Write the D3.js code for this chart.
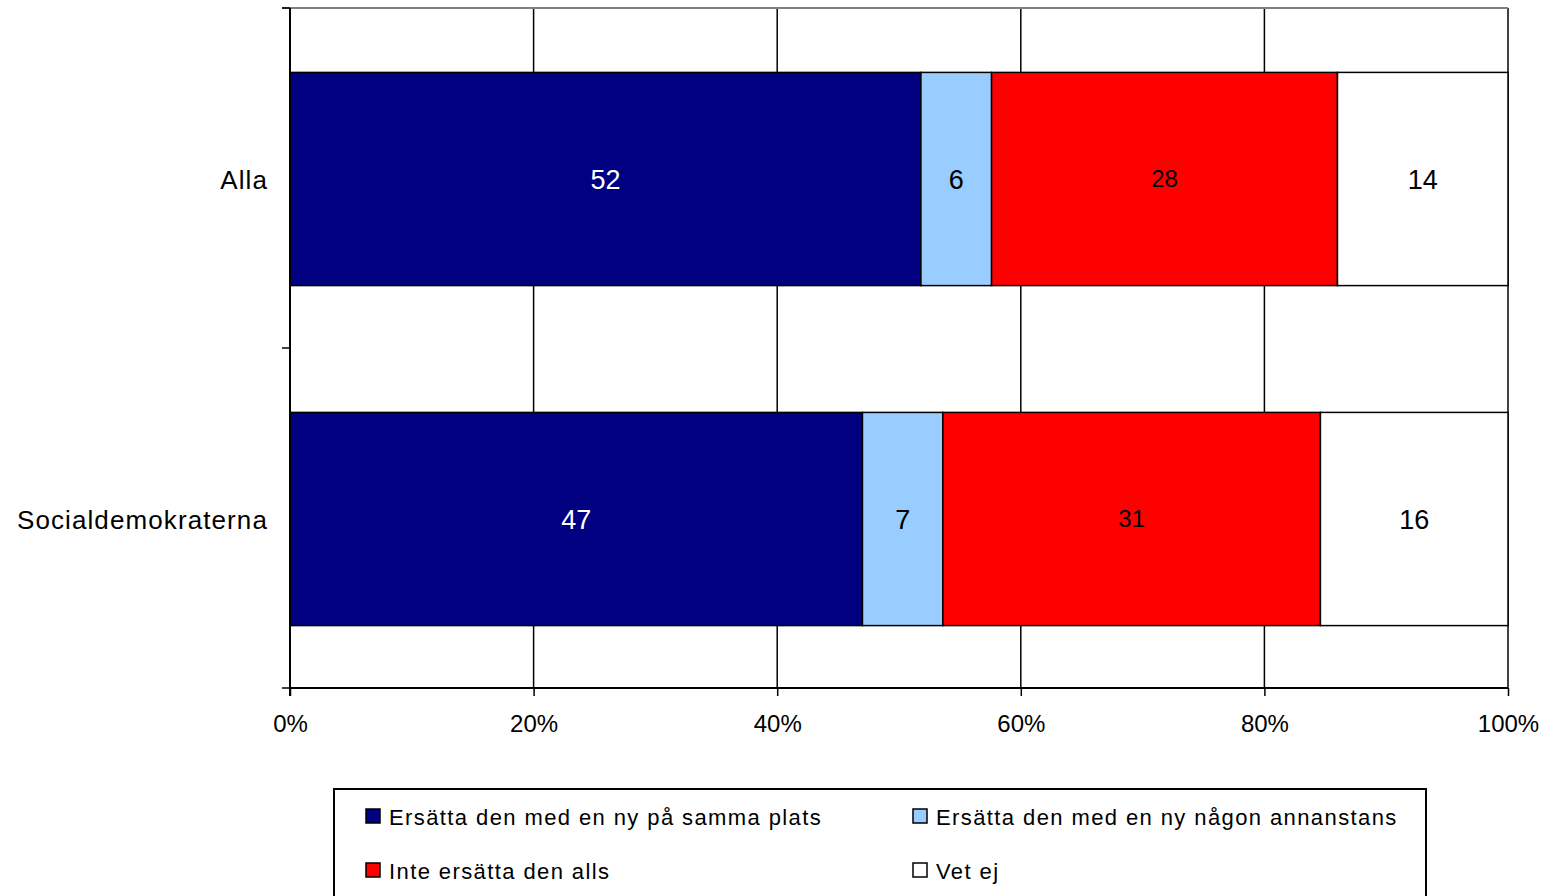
<!DOCTYPE html>
<html>
<head>
<meta charset="utf-8">
<script src="https://cdn.jsdelivr.net/npm/d3@7"></script>
<style>
  html, body { margin: 0; padding: 0; background: #fff; }
  svg { display: block; font-family: "Liberation Sans", Arial, Helvetica, sans-serif; }
</style>
</head>
<body>
<svg id="chart" width="1546" height="896"></svg>
<script>
const categories = ["Alla", "Socialdemokraterna"];
const seriesNames = [
  "Ersätta den med en ny på samma plats",
  "Ersätta den med en ny någon annanstans",
  "Inte ersätta den alls",
  "Vet ej"
];
const seriesColors = ["#000080", "#99ccff", "#ff0000", "#ffffff"];
const labelColors = ["#ffffff", "#000000", "#000000", "#000000"];
// segment values (percent) per category
const allaValues = [51.8, 5.8, 28.4, 14.0];
const sdValues = [47.0, 6.6, 31.0, 15.4];
// data labels as printed in the chart
const allaLabels = ["52", "6", "28", "14"];
const sdLabels = ["47", "7", "31", "16"];
const xTicks = [0, 0.2, 0.4, 0.6, 0.8, 1.0];

const values = [allaValues, sdValues];
const labels = [allaLabels, sdLabels];

const svg = d3.select("#chart");
const pLeft = 290, pRight = 1508, pTop = 8, pBottom = 688;

const x = d3.scaleLinear().domain([0, 1]).range([pLeft, pRight]);
const y = d3.scaleBand().domain(categories).range([pTop, pBottom]).paddingInner(0.373).paddingOuter(0.1865);

// vertical gridlines
svg.append("g").selectAll("line").data(xTicks.slice(1)).join("line")
  .attr("x1", d => x(d)).attr("x2", d => x(d))
  .attr("y1", pTop).attr("y2", pBottom)
  .attr("stroke", "#000").attr("stroke-width", 1.5);

// top border
svg.append("line").attr("x1", pLeft - 8).attr("x2", pRight).attr("y1", pTop).attr("y2", pTop)
  .attr("stroke", "#808080").attr("stroke-width", 2);

// bars
categories.forEach((cat, ci) => {
  const vals = values[ci];
  const total = d3.sum(vals);
  let cum = 0;
  const segs = vals.map((v, i) => {
    const s = { i, x0: cum / total, x1: (cum + v) / total, label: labels[ci][i] };
    cum += v;
    return s;
  });
  const g = svg.append("g");
  g.selectAll("rect").data(segs).join("rect")
    .attr("x", d => x(d.x0)).attr("width", d => x(d.x1) - x(d.x0))
    .attr("y", y(cat) + 1).attr("height", y.bandwidth())
    .attr("fill", d => seriesColors[d.i])
    .attr("stroke", "#000").attr("stroke-width", 1.5);
  g.selectAll("text").data(segs).join("text")
    .attr("x", d => (x(d.x0) + x(d.x1)) / 2)
    .attr("y", d => y(cat) + y.bandwidth() / 2 + (d.i === 2 ? 0 : 2))
    .attr("text-anchor", "middle").attr("dominant-baseline", "central")
    .attr("font-size", d => d.i === 2 ? 24 : 27)
    .attr("fill", d => labelColors[d.i])
    .text(d => d.label);
});

// y axis
const yAxis = svg.append("g");
yAxis.append("line").attr("x1", pLeft).attr("x2", pLeft).attr("y1", pTop).attr("y2", pBottom + 8)
  .attr("stroke", "#000").attr("stroke-width", 2);
const boundaries = [pTop, (y(categories[0]) + y.bandwidth() + y(categories[1])) / 2, pBottom];
yAxis.selectAll("line.tick").data(boundaries).join("line").attr("class", "tick")
  .attr("x1", pLeft - 8).attr("x2", pLeft).attr("y1", d => d).attr("y2", d => d)
  .attr("stroke", "#000").attr("stroke-width", 1.5);
yAxis.selectAll("text").data(categories).join("text")
  .attr("x", pLeft - 22).attr("y", d => y(d) + y.bandwidth() / 2 + 2)
  .attr("text-anchor", "end").attr("dominant-baseline", "central")
  .attr("font-size", 26).attr("letter-spacing", 1.1).text(d => d);

// x axis
const xAxis = svg.append("g").attr("transform", `translate(0,${pBottom})`)
  .call(d3.axisBottom(x).tickValues(xTicks).tickFormat(d3.format(".0%")).tickSize(8).tickPadding(19));
xAxis.select(".domain").attr("stroke", "#000").attr("stroke-width", 2).attr("d", `M${pLeft},0H${pRight}`);
xAxis.selectAll(".tick line").attr("stroke", "#000").attr("stroke-width", 1.5);
xAxis.selectAll(".tick text").attr("font-size", 24).attr("fill", "#000")
  .attr("font-family", "Liberation Sans, Arial, sans-serif");

// legend
const lg = svg.append("g");
lg.append("rect").attr("x", 334).attr("y", 789).attr("width", 1092).attr("height", 140)
  .attr("fill", "#fff").attr("stroke", "#000").attr("stroke-width", 2);
const legPos = [[366, 816], [913, 816], [366, 870], [913, 870]];
seriesNames.forEach((name, i) => {
  const [lx, ly] = legPos[i];
  lg.append("rect").attr("x", lx).attr("y", ly - 7).attr("width", 14).attr("height", 14)
    .attr("fill", seriesColors[i]).attr("stroke", "#000").attr("stroke-width", 1.5);
  lg.append("text").attr("x", lx + 23).attr("y", ly + 1).attr("dominant-baseline", "central")
    .attr("font-size", 22).attr("letter-spacing", 1.4).text(name);
});
</script>
</body>
</html>
